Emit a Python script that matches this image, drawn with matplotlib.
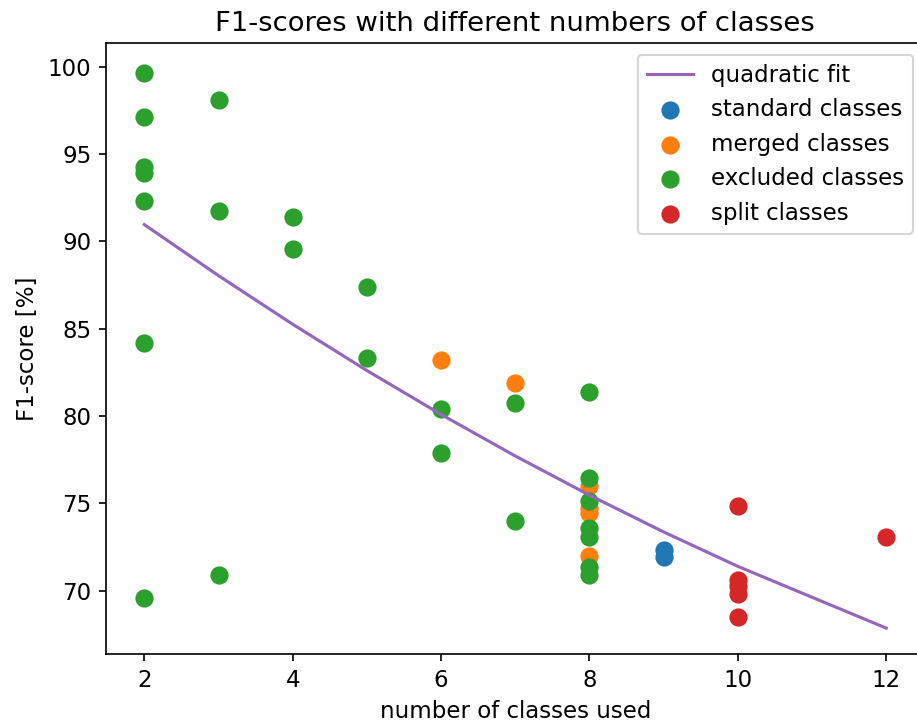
import matplotlib
matplotlib.use("Agg")
import matplotlib.pyplot as plt
import numpy as np

# F1-scores [%] per experiment, grouped by how the class set was built
standard_x = [9, 9]
standard_y = [72.3, 71.9]

merged_x = [6, 7, 8, 8, 8, 8]
merged_y = [83.2, 81.87, 76.0, 74.7, 74.45, 72.0]

excluded_x = [2, 2, 2, 2, 2, 2, 2,
              3, 3, 3,
              4, 4,
              5, 5,
              6, 6,
              7, 7,
              8, 8, 8, 8, 8, 8, 8]
excluded_y = [99.62, 97.14, 94.24, 93.89, 92.31, 84.16, 69.55,
              98.09, 91.74, 70.89,
              91.37, 89.54,
              87.37, 83.30,
              80.38, 77.89,
              80.72, 74.0,
              81.39, 76.43, 75.13, 73.56, 73.08, 71.36, 70.89]

split_x = [10, 10, 10, 10, 10, 12]
split_y = [74.84, 70.58, 70.24, 69.78, 68.5, 73.05]

all_x = np.array(standard_x + merged_x + excluded_x + split_x, dtype=float)
all_y = np.array(standard_y + merged_y + excluded_y + split_y, dtype=float)

coef = np.polyfit(all_x, all_y, 2)
fit_x = np.unique(all_x)
fit_y = np.polyval(coef, fit_x)

plt.rcParams["font.size"] = 11

fig = plt.figure(figsize=(917 / 150, 727 / 150), dpi=150)
ax = fig.add_axes([106 / 917, 1 - 654.3 / 727, 818.6 / 917, 611 / 727])

ax.plot(fit_x, fit_y, color="C4", label="quadratic fit")
ax.scatter(standard_x, standard_y, s=60, color="C0", label="standard classes")
ax.scatter(merged_x, merged_y, s=60, color="C1", label="merged classes")
ax.scatter(excluded_x, excluded_y, s=60, color="C2", label="excluded classes")
ax.scatter(split_x, split_y, s=60, color="C3", label="split classes")

ax.set_xlim(1.483, 12.517)
ax.set_ylim(66.35, 101.34)
ax.set_xticks([2, 4, 6, 8, 10, 12])
ax.set_title("F1-scores with different numbers of classes")
ax.set_xlabel("number of classes used")
ax.set_ylabel("F1-score [%]")
ax.legend(loc="upper right")

fig.savefig("out.png", dpi=150)
